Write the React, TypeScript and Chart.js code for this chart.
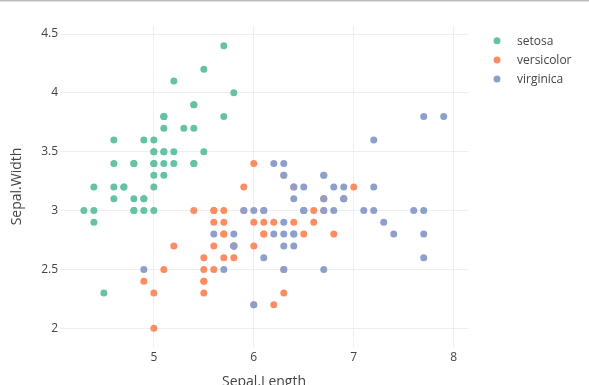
import React, { useEffect, useRef } from "react";
import { Chart, registerables } from "chart.js";

Chart.register(...registerables);

const species = ["setosa", "versicolor", "virginica"];
const colors = ["#66c2a5", "#fc8d62", "#8da0cb"];

const setosaLength = [5.1, 4.9, 4.7, 4.6, 5.0, 5.4, 4.6, 5.0, 4.4, 4.9, 5.4, 4.8, 4.8, 4.3, 5.8, 5.7, 5.4, 5.1, 5.7, 5.1, 5.4, 5.1, 4.6, 5.1, 4.8, 5.0, 5.0, 5.2, 5.2, 4.7, 4.8, 5.4, 5.2, 5.5, 4.9, 5.0, 5.5, 4.9, 4.4, 5.1, 5.0, 4.5, 4.4, 5.0, 5.1, 4.8, 5.1, 4.6, 5.3, 5.0];
const setosaWidth = [3.5, 3.0, 3.2, 3.1, 3.6, 3.9, 3.4, 3.4, 2.9, 3.1, 3.7, 3.4, 3.0, 3.0, 4.0, 4.4, 3.9, 3.5, 3.8, 3.8, 3.4, 3.7, 3.6, 3.3, 3.4, 3.0, 3.4, 3.5, 3.4, 3.2, 3.1, 3.4, 4.1, 4.2, 3.1, 3.2, 3.5, 3.6, 3.0, 3.4, 3.5, 2.3, 3.2, 3.5, 3.8, 3.0, 3.8, 3.2, 3.7, 3.3];

const versicolorLength = [7.0, 6.4, 6.9, 5.5, 6.5, 5.7, 6.3, 4.9, 6.6, 5.2, 5.0, 5.9, 6.0, 6.1, 5.6, 6.7, 5.6, 5.8, 6.2, 5.6, 5.9, 6.1, 6.3, 6.1, 6.4, 6.6, 6.8, 6.7, 6.0, 5.7, 5.5, 5.5, 5.8, 6.0, 5.4, 6.0, 6.7, 6.3, 5.6, 5.5, 5.5, 6.1, 5.8, 5.0, 5.6, 5.7, 5.7, 6.2, 5.1, 5.7];
const versicolorWidth = [3.2, 3.2, 3.1, 2.3, 2.8, 2.8, 3.3, 2.4, 2.9, 2.7, 2.0, 3.0, 2.2, 2.9, 2.9, 3.1, 3.0, 2.7, 2.2, 2.5, 3.2, 2.8, 2.5, 2.8, 2.9, 3.0, 2.8, 3.0, 2.9, 2.6, 2.4, 2.4, 2.7, 2.7, 3.0, 3.4, 3.1, 2.3, 3.0, 2.5, 2.6, 3.0, 2.6, 2.3, 2.7, 3.0, 2.9, 2.9, 2.5, 2.8];

const virginicaLength = [6.3, 5.8, 7.1, 6.3, 6.5, 7.6, 4.9, 7.3, 6.7, 7.2, 6.5, 6.4, 6.8, 5.7, 5.8, 6.4, 6.5, 7.7, 7.7, 6.0, 6.9, 5.6, 7.7, 6.3, 6.7, 7.2, 6.2, 6.1, 6.4, 7.2, 7.4, 7.9, 6.4, 6.3, 6.1, 7.7, 6.3, 6.4, 6.0, 6.9, 6.7, 6.9, 5.8, 6.8, 6.7, 6.7, 6.3, 6.5, 6.2, 5.9];
const virginicaWidth = [3.3, 2.7, 3.0, 2.9, 3.0, 3.0, 2.5, 2.9, 2.5, 3.6, 3.2, 2.7, 3.0, 2.5, 2.8, 3.2, 3.0, 3.8, 2.6, 2.2, 3.2, 2.8, 2.8, 2.7, 3.3, 3.2, 2.8, 3.0, 2.8, 3.0, 2.8, 3.8, 2.8, 2.8, 2.6, 3.0, 3.4, 3.1, 3.0, 3.1, 3.1, 3.1, 2.7, 3.2, 3.3, 3.0, 2.5, 3.0, 3.4, 3.0];

const xTicks = [5, 6, 7, 8];
const yTicks = [2, 2.5, 3, 3.5, 4, 4.5];
const xTitle = "Sepal.Length";
const yTitle = "Sepal.Width";

const FONT = '"Open Sans", "Noto Sans", sans-serif';

export default function App() {
  const ref = useRef<HTMLCanvasElement | null>(null);

  useEffect(() => {
    if (!ref.current) return;
    const lengths = [setosaLength, versicolorLength, virginicaLength];
    const widths = [setosaWidth, versicolorWidth, virginicaWidth];

    const decor = {
      id: "decor",
      afterDraw(chart: any) {
        const ctx = chart.ctx;
        const area = chart.chartArea;
        ctx.save();
        ctx.fillStyle = "#bdbdbd";
        ctx.fillRect(0, 0, 589, 1.5);
        ctx.fillStyle = "#444";
        ctx.font = `14px ${FONT}`;
        ctx.textAlign = "center";
        ctx.textBaseline = "alphabetic";
        ctx.fillText(xTitle, (area.left + area.right) / 2, 386);
        ctx.save();
        ctx.translate(17, (area.top + area.bottom) / 2);
        ctx.rotate(-Math.PI / 2);
        ctx.textBaseline = "middle";
        ctx.fillText(yTitle, 0, 0);
        ctx.restore();
        // legend
        ctx.font = `12px ${FONT}`;
        ctx.textAlign = "left";
        ctx.textBaseline = "middle";
        species.forEach((s, i) => {
          const y = 40.7 + i * 19.2;
          ctx.beginPath();
          ctx.arc(497, y, 3.5, 0, Math.PI * 2);
          ctx.fillStyle = colors[i];
          ctx.fill();
          ctx.fillStyle = "#444";
          ctx.fillText(s, 517, y + 0.5);
        });
        ctx.restore();
      },
    };

    const chart = new Chart(ref.current, {
      type: "scatter",
      data: {
        datasets: species.map((s, i) => ({
          label: s,
          data: lengths[i].map((x, j) => ({ x, y: widths[i][j] })),
          backgroundColor: colors[i],
          borderWidth: 0,
          pointRadius: 3.5,
          order: 3 - i,
        })),
      },
      options: {
        animation: false,
        responsive: false,
        devicePixelRatio: 1,
        events: [],
        layout: { padding: { left: 0, top: 26, right: 121, bottom: 0 } },
        plugins: {
          legend: { display: false },
          tooltip: { enabled: false },
        },
        scales: {
          x: {
            type: "linear",
            min: 4.061,
            max: 8.143,
            afterBuildTicks: (scale: any) => {
              scale.ticks = xTicks.map((v) => ({ value: v }));
            },
            afterFit: (scale: any) => {
              scale.height = 38;
            },
            grid: { color: "#eeeeee", drawTicks: false },
            border: { display: false },
            ticks: {
              padding: 3,
              color: "#444",
              font: { family: FONT, size: 12 },
              maxRotation: 0,
              callback: (v: any) => String(v),
            },
          },
          y: {
            type: "linear",
            min: 1.841,
            max: 4.568,
            afterBuildTicks: (scale: any) => {
              scale.ticks = yTicks.map((v) => ({ value: v }));
            },
            afterFit: (scale: any) => {
              scale.width = 60;
            },
            grid: { color: "#eeeeee", drawTicks: false },
            border: { display: false },
            ticks: {
              padding: 2,
              color: "#444",
              font: { family: FONT, size: 12 },
              callback: (v: any) => String(v),
            },
          },
        },
      },
      plugins: [decor],
    });
    return () => chart.destroy();
  }, []);

  return (
    <div style={{ position: "fixed", left: 0, top: 0, width: 589, height: 385, background: "#fff" }}>
      <canvas ref={ref} width={589} height={385} style={{ width: 589, height: 385, display: "block" }} />
    </div>
  );
}
